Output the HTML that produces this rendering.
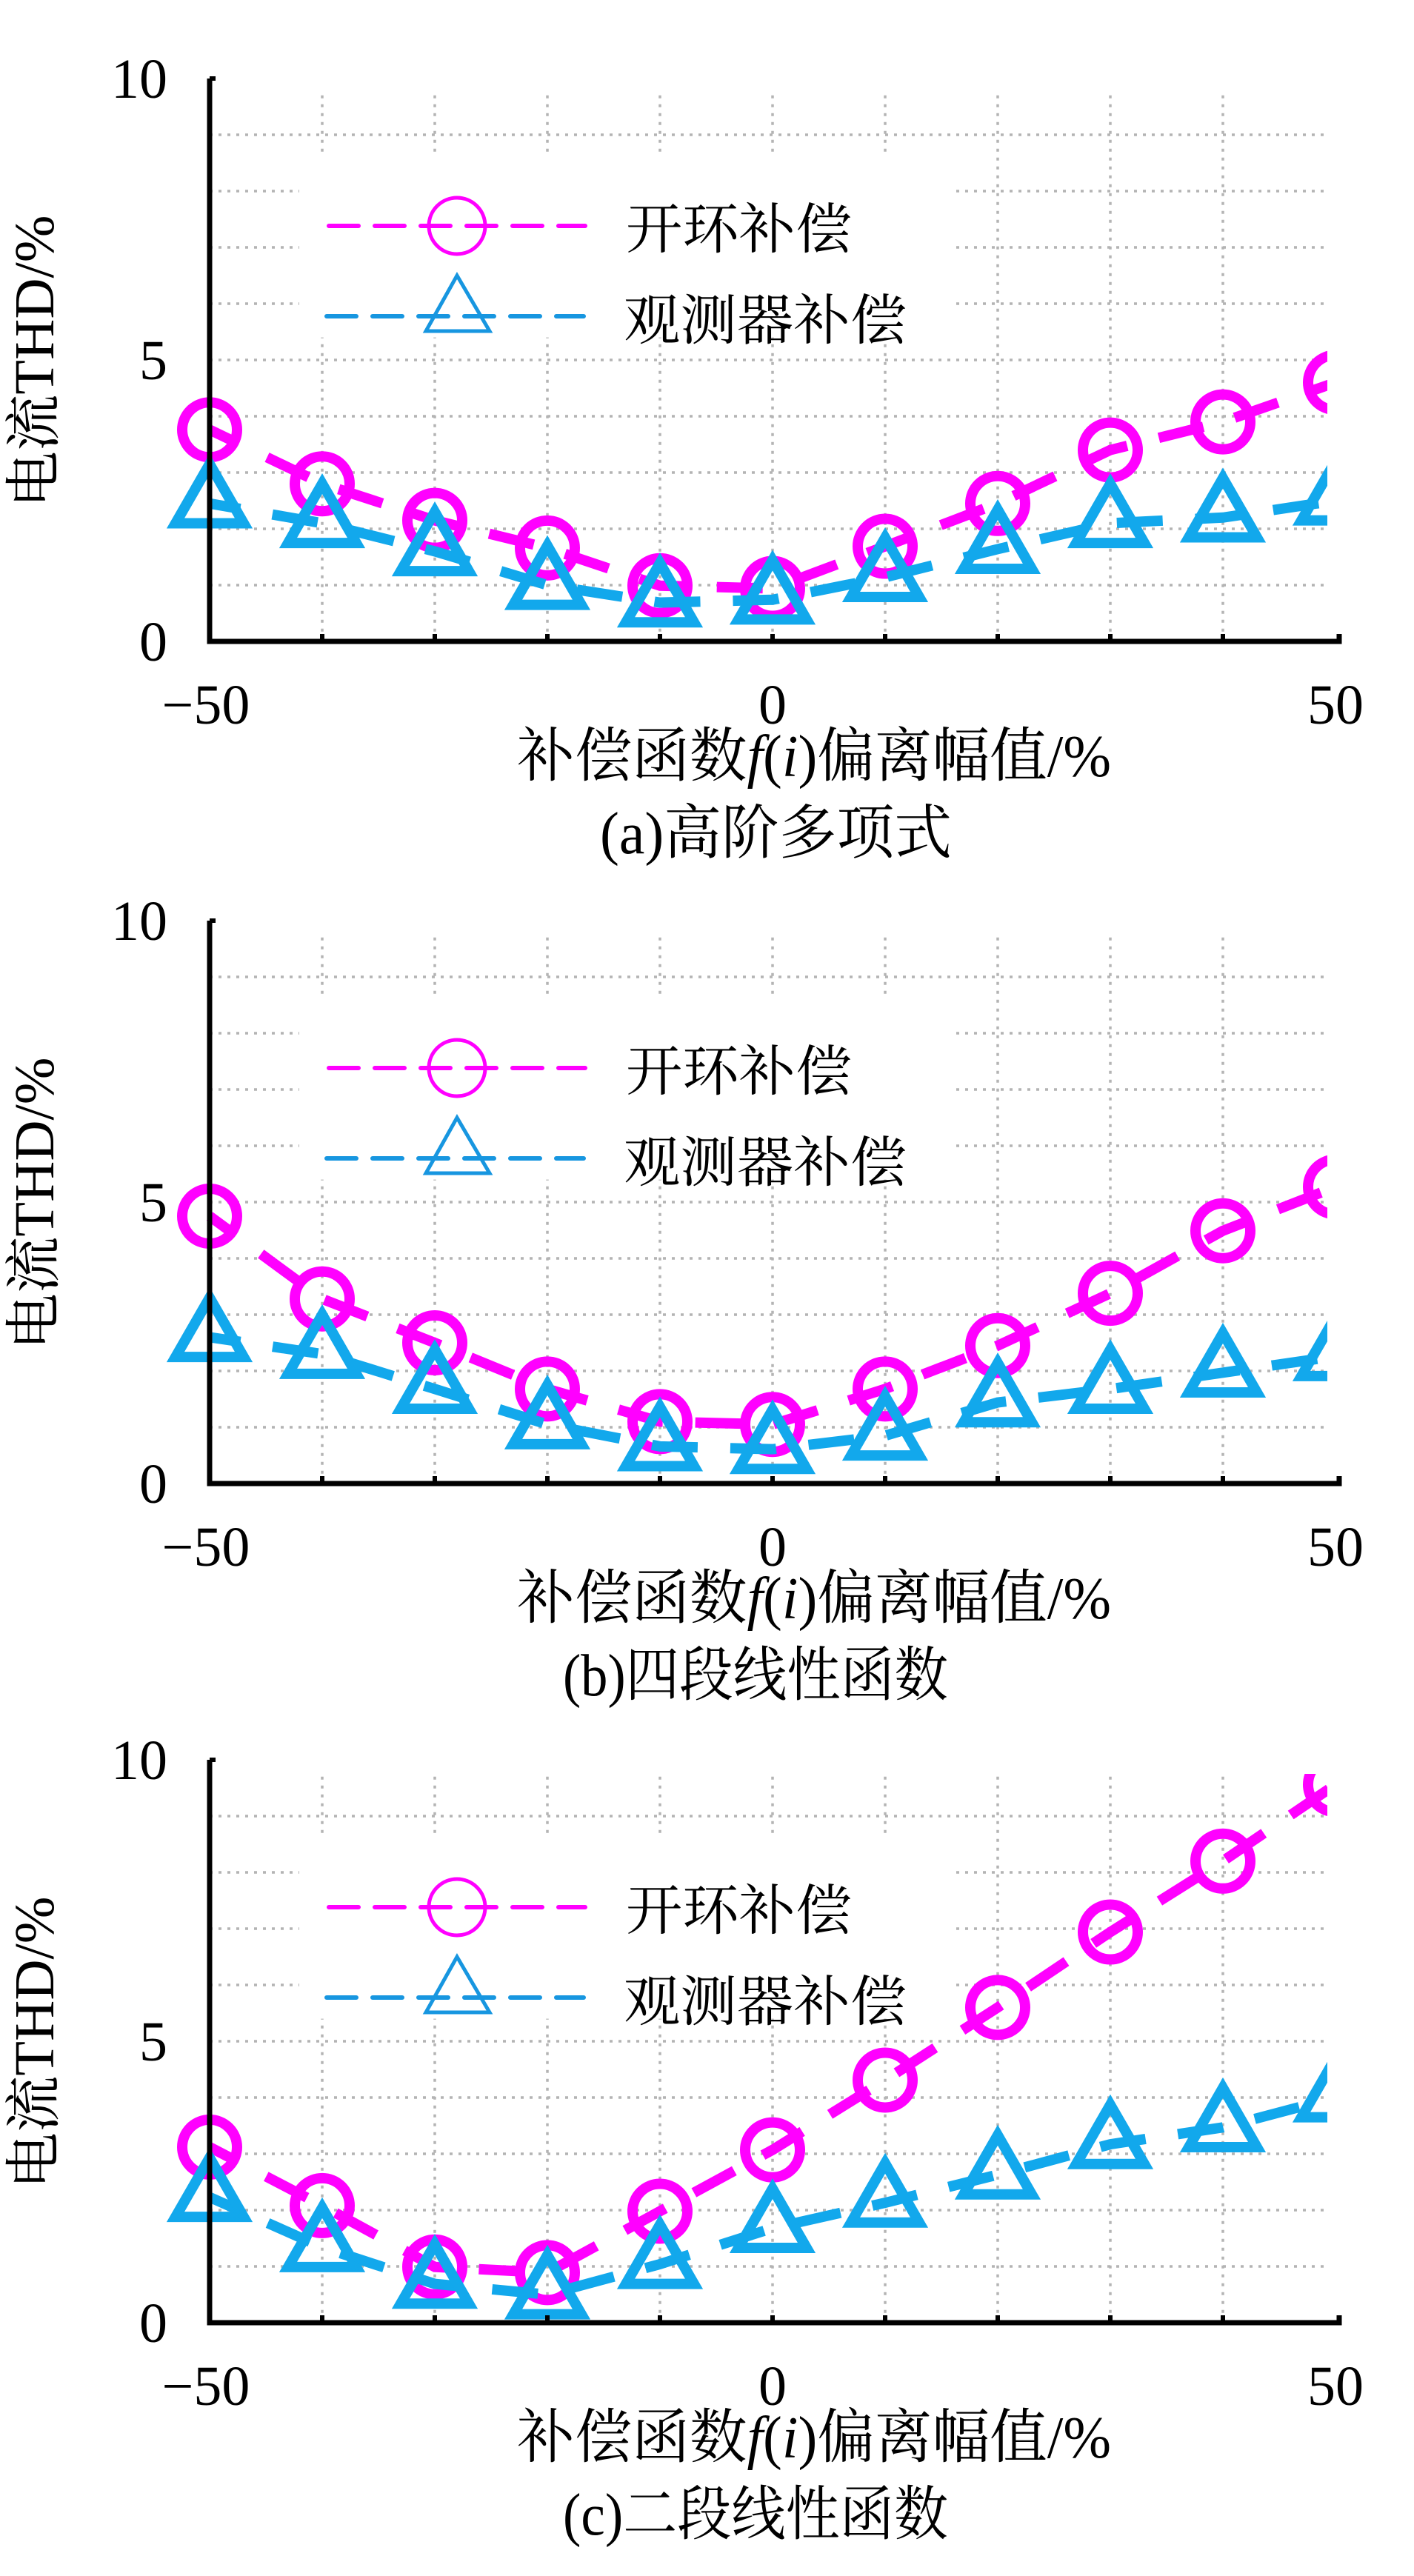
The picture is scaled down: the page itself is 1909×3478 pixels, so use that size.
<!DOCTYPE html>
<html>
<head>
<meta charset="utf-8">
<style>
html,body{margin:0;padding:0;background:#fff;}
svg{display:block;}
.tick{font-family:"Liberation Serif","Noto Serif CJK SC",serif;font-size:76px;fill:#000;}
.cjk{font-family:"Liberation Serif","Noto Serif CJK SC","Noto Sans CJK SC",serif;fill:#000;}
</style>
</head>
<body>
<svg id="fig" width="1909" height="3478" viewBox="0 0 1909 3478" xmlns="http://www.w3.org/2000/svg"></svg>
<script>
// ---- data ----
const xCategories = [-50, -40, -30, -20, -10, 0, 10, 20, 30, 40, 50];
const xTickLabels = ["\u221250", "0", "50"];
const xTickValues = [-50, 0, 50];
const yTickLabels = ["0", "5", "10"];
const yTickValues = [0, 5, 10];

const openLoopA = [3.76, 2.8, 2.15, 1.66, 0.99, 0.94, 1.69, 2.45, 3.4, 3.9, 4.6];
const observerA = [2.45, 2.1, 1.6, 1.0, 0.69, 0.74, 1.14, 1.64, 2.1, 2.2, 2.5];
const openLoopB = [4.75, 3.28, 2.5, 1.68, 1.1, 1.05, 1.68, 2.45, 3.38, 4.49, 5.27];
const observerB = [2.6, 2.3, 1.68, 1.05, 0.66, 0.61, 0.85, 1.44, 1.68, 1.97, 2.26];
const openLoopC = [3.12, 2.08, 0.99, 0.89, 1.98, 3.07, 4.31, 5.6, 6.94, 8.2, 9.56];
const observerC = [2.23, 1.34, 0.69, 0.5, 1.04, 1.68, 2.13, 2.63, 3.17, 3.47, 4.0];

const captions = ["(a)高阶多项式", "(b)四段线性函数", "(c)二段线性函数"];

// ---- layout ----
const NS = "http://www.w3.org/2000/svg";
const svg = document.getElementById("fig");
const X0 = 1043, XS = 15.2;
const YS = 76;
const AXIS_LEFT = 283, AXIS_RIGHT = 1808, CLIP_RIGHT = 1792;
const MAG = "#ff00ff", CYA = "#12a8ec";

function el(tag, attrs, parent) {
  const e = document.createElementNS(NS, tag);
  for (const k in attrs) e.setAttribute(k, attrs[k]);
  (parent || svg).appendChild(e);
  return e;
}

function drawChart(idx, y0, openVals, obsVals) {
  const xs = v => X0 + v * XS;
  const ys = v => y0 - v * YS;
  const g = el("g", {});
  
  

  const cid = "clip" + idx;
  const defs = el("defs", {}, g);
  const cp = el("clipPath", {id: cid}, defs);
  el("rect", {x: 0, y: ys(9.75), width: CLIP_RIGHT, height: 800}, cp);

  const grid = el("g", {stroke: "#b4b4b4", "stroke-width": 3.5, "stroke-dasharray": "4 8", fill: "none"}, g);
  
  
  for (let v = 1; v <= 9; v++) {
    el("line", {x1: AXIS_LEFT, x2: CLIP_RIGHT, y1: ys(v), y2: ys(v)}, grid);
  }
  for (let v = -40; v <= 40; v += 10) {
    el("line", {x1: xs(v), x2: xs(v), y1: ys(9.7), y2: y0}, grid);
  }

  const lb = el("rect", {x: 404, y: ys(8.6), width: 886, height: 3.2 * YS, fill: "#fff"}, g);
  
  

  const series = [[openVals, MAG, "circle"], [obsVals, CYA, "triangle"]];
  series.forEach(([vals, col, mk], si) => {
    const sg = el("g", {"clip-path": "url(#" + cid + ")"}, g);
    
    
    const pts = xCategories.map((c, i) => xs(c) + "," + ys(vals[i])).join(" ");
    const pl = el("polyline", {points: pts, fill: "none", stroke: col, "stroke-width": 14, "stroke-dasharray": "62 44", "stroke-dashoffset": 20}, sg);
    
    
    xCategories.forEach((c, i) => {
      const cx = xs(c), cy = ys(vals[i]);
      let m;
      if (mk === "circle") {
        m = el("circle", {cx: cx, cy: cy, r: 37, fill: "none", stroke: col, "stroke-width": 14}, sg);
        
      } else {
        const h = 80, w = 92;
        const top = cy - h * 2 / 3, bot = cy + h / 3;
        m = el("polygon", {points: `${cx},${top} ${cx - w / 2},${bot} ${cx + w / 2},${bot}`, fill: "none", stroke: col, "stroke-width": 14, "stroke-linejoin": "miter"}, sg);
        
      }
      
    });
  });

  const ax = el("path", {d: `M${AXIS_LEFT},${ys(10)} L${AXIS_LEFT},${y0} L${AXIS_RIGHT},${y0} L${AXIS_RIGHT},${y0 - 10}`, fill: "none", stroke: "#000", "stroke-width": 7}, g);
  
  
  for (let v = -40; v <= 40; v += 10) {
    el("line", {x1: xs(v), x2: xs(v), y1: y0, y2: y0 - 10, stroke: "#000", "stroke-width": 6}, g);
  }
  el("line", {x1: AXIS_LEFT, x2: AXIS_LEFT + 8, y1: ys(10), y2: ys(10), stroke: "#000", "stroke-width": 6}, g);

  yTickValues.forEach((v, i) => {
    const t = el("text", {x: 226, y: ys(v) + 26, "text-anchor": "end", class: "tick"}, g);
    t.textContent = yTickLabels[i];
    
    
  });
  xTickValues.forEach((v, i) => {
    const t = el("text", {x: xs(v) + (v === -50 ? -5 : 0), y: y0 + 111, "text-anchor": "middle", class: "tick"}, g);
    t.textContent = xTickLabels[i];
    
    
  });

  const yt = el("text", {x: 0, y: 0, class: "cjk", "font-size": 76, "text-anchor": "middle", transform: `translate(72,${y0 - 378}) rotate(-90)`, textLength: 395, lengthAdjust: "spacingAndGlyphs"}, g);
  yt.textContent = "电流THD/%";
  
  

  const xt = el("text", {x: 698, y: y0 + 182, class: "cjk", "font-size": 80, textLength: 802, lengthAdjust: "spacingAndGlyphs"}, g);
  xt.innerHTML = '补偿函数<tspan font-style="italic">f</tspan>(<tspan font-style="italic">i</tspan>)偏离幅值/%';
  
  

  const cap = el("text", {x: 810, y: y0 + 286, class: "cjk", "font-size": 80, textLength: idx === 0 ? 475 : 520, lengthAdjust: "spacingAndGlyphs"}, g);
  if (idx > 0) cap.setAttribute("x", 760);
  cap.textContent = captions[idx];
  
  

  const lg = el("g", {}, g);
  
  
  const r1 = y0 - 561, r2 = y0 - 439;
  const l1 = el("line", {x1: 444, x2: 790, y1: r1, y2: r1, stroke: MAG, "stroke-width": 6, "stroke-dasharray": "40 22", "stroke-linecap": "round"}, lg);
  
  
  const c1 = el("circle", {cx: 617, cy: r1, r: 38, fill: "none", stroke: MAG, "stroke-width": 5}, lg);
  
  
  const l2 = el("line", {x1: 441, x2: 788, y1: r2, y2: r2, stroke: "#1796e0", "stroke-width": 6, "stroke-dasharray": "40 22", "stroke-linecap": "round"}, lg);
  
  
  const t2 = el("polygon", {points: `617,${r2 - 55} 575,${r2 + 20} 661,${r2 + 20}`, fill: "none", stroke: "#1796e0", "stroke-width": 5}, lg);
  
  
  const tx1 = el("text", {x: 845, y: r1 + 30, class: "cjk", "font-size": 74, textLength: 305, lengthAdjust: "spacingAndGlyphs"}, lg);
  tx1.textContent = "开环补偿";
  
  
  const tx2 = el("text", {x: 842, y: r2 + 31, class: "cjk", "font-size": 74, textLength: 382, lengthAdjust: "spacingAndGlyphs"}, lg);
  tx2.textContent = "观测器补偿";
  
  
}

drawChart(0, 866, openLoopA, observerA);
drawChart(1, 2003, openLoopB, observerB);
drawChart(2, 3136, openLoopC, observerC);
</script>
</body>
</html>
